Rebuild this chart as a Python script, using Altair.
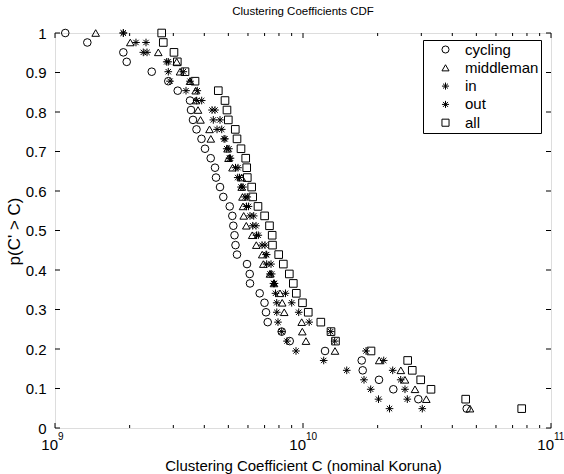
import altair as alt
import pandas as pd

FONT = "Liberation Sans"

# p(C' > C) levels shared by every series
p_levels = [1.000, 0.976, 0.951, 0.927, 0.902, 0.878, 0.854, 0.829, 0.805, 0.780,
            0.756, 0.732, 0.707, 0.683, 0.659, 0.634, 0.610, 0.585, 0.561, 0.537,
            0.512, 0.488, 0.463, 0.439, 0.415, 0.390, 0.366, 0.341, 0.317, 0.293,
            0.268, 0.244, 0.220, 0.195, 0.171, 0.146, 0.122, 0.098, 0.073, 0.049]

# clustering coefficient values, in units of 10^9 nominal Koruna
cycling = [1.10, 1.35, 1.886, 1.946, 2.455, 2.863, 3.125, 3.503, 3.535, 3.601,
           3.720, 3.896, 4.026, 4.245, 4.418, 4.459, 4.628, 4.771, 5.064, 5.188,
           5.236, 5.295, 5.344, 5.419, 5.946, 6.097, 6.114, 6.689, 6.995, 7.092,
           7.206, 8.206, 8.840, 12.27, 17.25, 17.41, 20.25, 23.13, 29.17, 45.72]
middleman = [1.459, 2.012, 2.609, 3.096, 3.192, 3.503, 3.692, 3.703, 3.773, 3.861,
             4.198, 4.249, 4.962, 5.008, 5.197, 5.659, 5.66, 5.702, 5.729, 5.766,
             5.907, 6.240, 6.482, 6.848, 6.918, 7.360, 7.639, 8.078, 8.244, 8.400,
             9.880, 9.936, 10.28, 13.46, 20.29, 24.80, 25.78, 28.29, 31.42, 47.14]
in_deg = [1.886, 2.121, 2.270, 2.821, 2.863, 2.908, 3.375, 3.727, 4.297, 4.349,
          4.501, 4.802, 4.924, 5.054, 5.344, 5.454, 5.623, 5.836, 5.918, 6.114,
          6.269, 6.494, 6.835, 7.092, 7.138, 7.360, 7.603, 7.746, 7.834, 7.84,
          7.928, 8.206, 8.620, 9.371, 12.12, 15.01, 17.62, 18.75, 20.16, 22.33]
out_deg = [1.886, 2.328, 2.350, 2.863, 3.291, 3.503, 3.748, 3.904, 4.418, 4.628,
           4.702, 4.847, 5.030, 5.101, 5.469, 5.546, 5.729, 5.962, 6.028, 6.327,
           6.464, 6.604, 7.027, 7.138, 7.430, 7.478, 7.675, 8.500, 9.004, 9.610,
           10.59, 12.93, 13.42, 17.95, 21.16, 23.00, 24.77, 25.78, 26.34, 30.27]
all_nodes = [2.693, 2.733, 3.018, 3.113, 3.344, 3.669, 4.555, 4.847, 4.937, 4.998,
             5.333, 5.419, 5.623, 5.875, 5.930, 5.962, 6.210, 6.269, 6.584, 7.002,
             7.327, 7.512, 7.534, 7.980, 8.330, 8.807, 9.140, 9.397, 9.954, 10.50,
             11.80, 12.97, 13.52, 18.80, 26.43, 27.58, 29.83, 32.82, 45.29, 76.19]

series_names = ["cycling", "middleman", "in", "out", "all"]
series_values = [cycling, middleman, in_deg, out_deg, all_nodes]

STAR = "M-1,0L1,0M0,-1L0,1M-0.7,-0.7L0.7,0.7M-0.7,0.7L0.7,-0.7"
shapes = ["circle", "triangle-up", STAR, STAR, "square"]

x_major = [1e9, 1e10, 1e11]
x_exp = ["9", "10", "11"]
x_minor = [2e9, 3e9, 4e9, 5e9, 6e9, 7e9, 8e9, 9e9,
           2e10, 3e10, 4e10, 5e10, 6e10, 7e10, 8e10, 9e10]
y_ticks = [0, 0.1, 0.2, 0.3, 0.4, 0.5, 0.6, 0.7, 0.8, 0.9, 1.0]

W, H = 496, 395

rows = []
for name, vals in zip(series_names, series_values):
    for p, v in zip(p_levels, vals):
        rows.append({"series": name, "C": v * 1e9, "p": p})
df = pd.DataFrame(rows)

xscale = alt.Scale(type="log", domain=[1e9, 1e11], nice=False)
yscale = alt.Scale(domain=[0, 1], nice=False, zero=False)

xaxis = alt.Axis(labels=False, ticks=False, domain=False, grid=False, tickSize=0,
                 title="Clustering Coefficient C (nominal Koruna)",
                 titleFont=FONT, titleFontSize=15, titleFontWeight="normal",
                 titleColor="black", titleX=W / 2, titleY=37,
                 titleBaseline="middle")
yaxis = alt.Axis(values=y_ticks, labelExpr="format(datum.value, '.1~f')",
                 labelOverlap=False,
                 ticks=False, tickSize=0, domain=False, grid=False,
                 labelFont=FONT, labelFontSize=15, labelColor="black",
                 labelPadding=9,
                 title="p(C' > C)", titleFont=FONT, titleFontSize=17,
                 titleFontWeight="normal", titleColor="black",
                 titleX=-41, titleY=198, titleAngle=-90,
                 titleBaseline="middle", titleAlign="center")

points = alt.Chart(df).mark_point(
    filled=False, color="black", strokeWidth=1, size=58, opacity=1
).encode(
    x=alt.X("C:Q", scale=xscale, axis=xaxis),
    y=alt.Y("p:Q", scale=yscale, axis=yaxis),
    shape=alt.Shape("series:N",
                    scale=alt.Scale(domain=series_names, range=shapes),
                    sort=series_names,
                    legend=alt.Legend(title=None, orient="none", legendX=368, legendY=7,
                                      strokeColor="black", fillColor="white",
                                      padding=2, cornerRadius=0,
                                      labelFont=FONT, labelFontSize=15,
                                      labelColor="black",
                                      symbolSize=50, symbolStrokeColor="black",
                                      symbolStrokeWidth=1,
                                      symbolFillColor="transparent",
                                      symbolOffset=13, labelOffset=12,
                                      rowPadding=2.3)),
)

xmaj_df = pd.DataFrame({"x": x_major, "e": x_exp})
xmin_df = pd.DataFrame({"x": x_minor})
y_df = pd.DataFrame({"y": y_ticks})

def xticks(data, length):
    bottom = alt.Chart(data).mark_rule(color="black", strokeWidth=1).encode(
        x=alt.X("x:Q", scale=xscale, axis=xaxis), y=alt.value(H), y2=alt.value(H - length))
    top = alt.Chart(data).mark_rule(color="black", strokeWidth=1).encode(
        x=alt.X("x:Q", scale=xscale, axis=xaxis), y=alt.value(0), y2=alt.value(length))
    return [bottom, top]

yt_left = alt.Chart(y_df).mark_rule(color="black", strokeWidth=1).encode(
    y=alt.Y("y:Q", scale=yscale, axis=yaxis), x=alt.value(0), x2=alt.value(5))
yt_right = alt.Chart(y_df).mark_rule(color="black", strokeWidth=1).encode(
    y=alt.Y("y:Q", scale=yscale, axis=yaxis), x=alt.value(W), x2=alt.value(W - 5))

base_lbl = alt.Chart(xmaj_df).mark_text(
    text="10", font=FONT, fontSize=15, align="right", baseline="alphabetic",
    dx=3, color="black"
).encode(x=alt.X("x:Q", scale=xscale, axis=xaxis), y=alt.value(H + 22))
exp_lbl = alt.Chart(xmaj_df).mark_text(
    font=FONT, fontSize=10, align="left", baseline="alphabetic",
    dx=3, color="black"
).encode(x=alt.X("x:Q", scale=xscale, axis=xaxis), y=alt.value(H + 12), text="e:N")

layers = [points] + xticks(xmaj_df, 5) + xticks(xmin_df, 3) + [yt_left, yt_right, base_lbl, exp_lbl]

chart = alt.layer(*layers).properties(
    width=W, height=H,
    autosize=alt.AutoSizeParams(type="none"),
    padding={"left": 55, "top": 33, "right": 13, "bottom": 46},
    title=alt.Title("Clustering Coefficients CDF", font=FONT, fontSize=11.5,
                    fontWeight="normal", color="black", anchor="middle", offset=9),
).configure_view(stroke="black", strokeWidth=1).configure(background="white")

chart.save("out.html", embed_options={"renderer": "svg", "actions": False})
